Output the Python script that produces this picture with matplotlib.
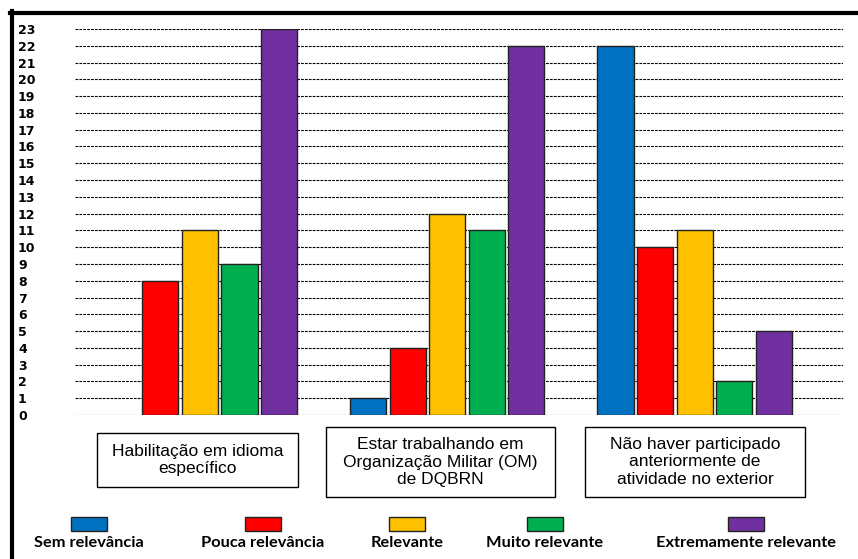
import matplotlib
matplotlib.use("Agg")
import matplotlib.pyplot as plt
import numpy as np
from matplotlib.patches import Rectangle
from matplotlib.lines import Line2D

categories = ["Habilitação em idioma\nespecífico",
              "Estar trabalhando em\nOrganização Militar (OM)\nde DQBRN",
              "Não haver participado\nanteriormente de\natividade no exterior"]
levels = ["Sem relevância", "Pouca relevância", "Relevante",
          "Muito relevante", "Extremamente relevante"]
sem = [0, 1, 22]
pouca = [8, 4, 10]
relevante = [11, 12, 11]
muito = [9, 11, 2]
extremamente = [23, 22, 5]
colors = ["#0070C0", "#FF0000", "#FFC000", "#00B050", "#7030A0"]
yticks = list(range(0, 24))

W, H = 858, 559
fig = plt.figure(figsize=(W / 100, H / 100), dpi=100)
ax = fig.add_axes([75 / W, 1 - 415 / H, (843 - 75) / W, (415 - 29) / H])

x = np.arange(len(categories))
step = 0.16
width = 0.146
series = [sem, pouca, relevante, muito, extremamente]
for i, (vals, c) in enumerate(zip(series, colors)):
    vals = np.array(vals, dtype=float)
    ax.bar(x + (i - 2) * step, vals, width, color=c, edgecolor="#222222",
           linewidth=np.where(vals > 0, 1.0, 0.0), zorder=3)

ax.set_xlim(-0.505, 2.60)
ax.set_ylim(0, 23)
ax.set_yticks(yticks)
ax.set_xticks([])
for s in ax.spines.values():
    s.set_visible(False)
ax.yaxis.grid(True, linestyle=(0, (2.5, 1)), color="black", linewidth=0.8, zorder=0)
ax.tick_params(axis="y", length=0, pad=41)
for lab in ax.get_yticklabels():
    lab.set_ha("left")
    lab.set_fontsize(9)
    lab.set_fontweight("bold")
    lab.set_fontfamily("DejaVu Sans")

# category boxes under the groups (pixel coordinates of the figure)
boxes = [(97, 433, 298, 487), (326, 427, 555, 497), (585, 427, 805, 497)]
for (x0, y0, x1, y1), name in zip(boxes, categories):
    fig.add_artist(Rectangle((x0 / W, 1 - y1 / H), (x1 - x0) / W, (y1 - y0) / H,
                             transform=fig.transFigure, facecolor="white",
                             edgecolor="black", linewidth=1.0))
    fig.text((x0 + x1) / 2 / W, 1 - (y0 + y1) / 2 / H, name, ha="center",
             va="center", fontsize=12.5, family="Liberation Sans",
             linespacing=1.18)

# legend
legend_x = [89, 263, 407, 545, 746]
for lx, c, name in zip(legend_x, colors, levels):
    fig.add_artist(Rectangle(((lx - 18) / W, 1 - 531 / H), 36 / W, 14 / H,
                             transform=fig.transFigure, facecolor=c,
                             edgecolor="#222222", linewidth=1.0))
    fig.text(lx / W, 1 - 543 / H, name, ha="center", va="center",
             fontsize=11.8, fontweight="bold", family="Lato")

# outer frame on the left and top
fig.add_artist(Line2D([11.5 / W, 11.5 / W], [0, 1 - 11 / H], color="black",
                      linewidth=3, transform=fig.transFigure))
fig.add_artist(Line2D([10 / W, 1], [1 - 12.5 / H, 1 - 12.5 / H], color="black",
                      linewidth=3, transform=fig.transFigure))

fig.savefig("out.png", dpi=100)
